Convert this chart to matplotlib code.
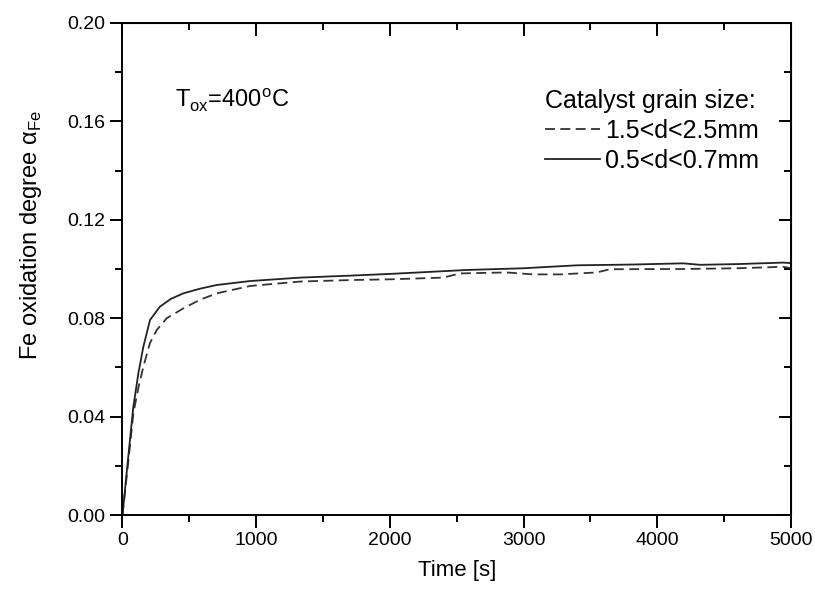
import numpy as np
import matplotlib
matplotlib.use("Agg")
import matplotlib.pyplot as plt
from matplotlib.ticker import MultipleLocator

plt.rcParams['font.family'] = ['Liberation Sans', 'DejaVu Sans']
plt.rcParams['mathtext.fontset'] = 'custom'
plt.rcParams['mathtext.rm'] = 'Liberation Sans'

# data
t_fine = [0, 40, 81, 120, 156, 206, 280, 360, 455, 580, 705, 954, 1330, 1702,
          2000, 2574, 3000, 3197, 3400, 3800, 4193, 4319, 4600, 4940, 5000]
a_fine = [0, 0.022, 0.044, 0.058, 0.0684, 0.0793, 0.0847, 0.0878, 0.0901, 0.092,
          0.0935, 0.0951, 0.0965, 0.0973, 0.098, 0.0996, 0.1003, 0.1009, 0.1015,
          0.1018, 0.1023, 0.1017, 0.102, 0.1026, 0.1024]

t_coarse = [0, 40, 81, 120, 156, 206, 256, 331, 455, 580, 705, 954, 1330, 1702,
            2000, 2398, 2524, 2873, 3071, 3272, 3547, 3646, 4193, 4600, 4940, 5000]
a_coarse = [0, 0.020, 0.0413, 0.052, 0.0603, 0.070, 0.0752, 0.080, 0.084, 0.0875,
            0.0901, 0.0931, 0.0949, 0.0955, 0.0958, 0.0965, 0.0982, 0.0986, 0.0978,
            0.0978, 0.0986, 0.0999, 0.1000, 0.1003, 0.1009, 0.1003]

fig = plt.figure(figsize=(8.15, 5.89), dpi=100)
ax = fig.add_axes([0.1503, 0.1256, 0.8203, 0.8354])

ax.plot(t_coarse, a_coarse, color='#333333', lw=1.3, ls=(0, (5.5, 3)),
        label='1.5<d<2.5mm')
ax.plot(t_fine, a_fine, color='#222222', lw=1.3, label='0.5<d<0.7mm')

ax.set_xlim(0, 5000)
ax.set_ylim(0, 0.20)
ax.xaxis.set_major_locator(MultipleLocator(1000))
ax.xaxis.set_minor_locator(MultipleLocator(500))
ax.yaxis.set_major_locator(MultipleLocator(0.04))
ax.yaxis.set_minor_locator(MultipleLocator(0.02))
ax.yaxis.set_major_formatter(matplotlib.ticker.FormatStrFormatter('%.2f'))

for s in ax.spines.values():
    s.set_linewidth(1.4)
ax.tick_params(which='both', direction='out', width=1.4, labelsize=14,
               top=False, right=False)
ax.tick_params(which='major', length=9)
ax.tick_params(which='minor', length=5)

# inward ticks on top and right
axt = ax.secondary_xaxis('top')
axt.xaxis.set_major_locator(MultipleLocator(1000))
axt.xaxis.set_minor_locator(MultipleLocator(500))
axt.tick_params(which='both', direction='in', width=1.4, labeltop=False)
axt.tick_params(which='major', length=9)
axt.tick_params(which='minor', length=5)
axr = ax.secondary_yaxis('right')
axr.yaxis.set_major_locator(MultipleLocator(0.04))
axr.yaxis.set_minor_locator(MultipleLocator(0.02))
axr.tick_params(which='both', direction='in', width=1.4, labelright=False)
axr.tick_params(which='major', length=9)
axr.tick_params(which='minor', length=5)

ax.set_xlabel('Time [s]', fontsize=16, labelpad=8)
ax.set_ylabel(r'Fe oxidation degree α$_{\mathrm{Fe}}$', fontsize=17)
ax.yaxis.set_label_coords(-0.117, 0.57)

ax.text(0.078, 0.827, r'T$_{\mathrm{ox}}$=400$^{\mathrm{o}}$C', transform=ax.transAxes,
        fontsize=17, va='baseline')

leg = ax.legend(title='Catalyst grain size:', loc='upper right', frameon=False,
                fontsize=18, title_fontsize=18, handlelength=2.2, handletextpad=0.2,
                labelspacing=0.24, borderpad=0, borderaxespad=0,
                bbox_to_anchor=(0.952, 0.866))
leg._legend_box.align = 'left'

fig.savefig('out.png', dpi=100)
